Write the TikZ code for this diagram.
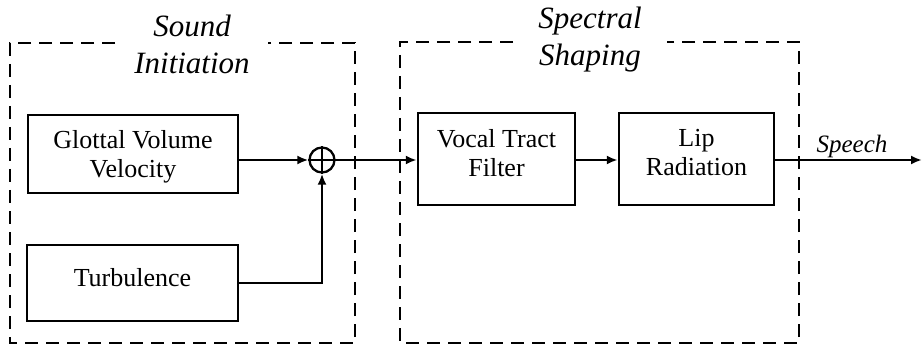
\documentclass[tikz,border=0pt]{standalone}
\usepackage{fontspec}
\setmainfont{Liberation Serif}
\usetikzlibrary{arrows.meta}
\begin{document}
\begin{tikzpicture}[x=0.5pt,y=-0.5pt,
  blk/.style={draw,line width=1.25pt,rectangle,inner sep=0pt},
  lbl/.style={align=center,inner sep=0pt,font=\fontsize{13}{14.5}\selectfont},
  grp/.style={draw,line width=1pt,dash pattern=on 6.5pt off 4pt},
  ttl/.style={align=center,font=\fontsize{15.5}{18.5}\selectfont\itshape,inner sep=0pt},
  con/.style={line width=1.15pt,-{Latex[length=5.5pt,width=4.5pt]}},
  lin/.style={line width=1pt}]
\useasboundingbox (0,0) rectangle (924,347);
% groups
\draw[grp] (115,43) -- (10,43) -- (10,343) -- (355,343) -- (355,43) -- (268,43);
\draw[grp] (513,42) -- (400,42) -- (400,343) -- (799,343) -- (799,42) -- (667,42);
\node[ttl] (t1) at (192,44) {Sound\\Initiation};
\node[ttl] (t2) at (590,40) {Spectral\\Shaping};
% blocks
\node[blk,minimum width=105pt,minimum height=39pt,
  label={[lbl,yshift=-1.5pt]center:{Glottal Volume\\Velocity}}] (glot) at (133,154) {};
\node[blk,minimum width=105.5pt,minimum height=38pt,
  label={[lbl,yshift=2.5pt]center:Turbulence}] (turb) at (132.5,283) {};
\node[blk,minimum width=78.5pt,minimum height=46pt,
  label={[lbl,yshift=3pt]center:{Vocal Tract\\Filter}}] (vt) at (496.5,159) {};
\node[blk,minimum width=77.5pt,minimum height=46pt,
  label={[lbl,yshift=3pt]center:{Lip\\Radiation}}] (lip) at (696.5,159) {};
\node[circle,draw,line width=1.15pt,minimum size=12.5pt,inner sep=0pt] (sum) at (322,160) {};
\draw[line width=1.15pt] (sum.north) -- (sum.south) (sum.west) -- (sum.east);
\coordinate (out) at (922,160);
% connectors
\draw[con] (glot.east |- sum) -- (sum.west);
\draw[con] (turb.east) -| (sum.south);
\draw[con] (sum.east) -- (vt.west |- sum);
\draw[con] (vt.east |- sum) -- (lip.west |- sum);
\draw[con] (lip.east |- sum) -- (out);
\node[font=\fontsize{12.5}{14}\selectfont\itshape,inner sep=0pt] (sp) at (852,146) {Speech};
\end{tikzpicture}
\end{document}
